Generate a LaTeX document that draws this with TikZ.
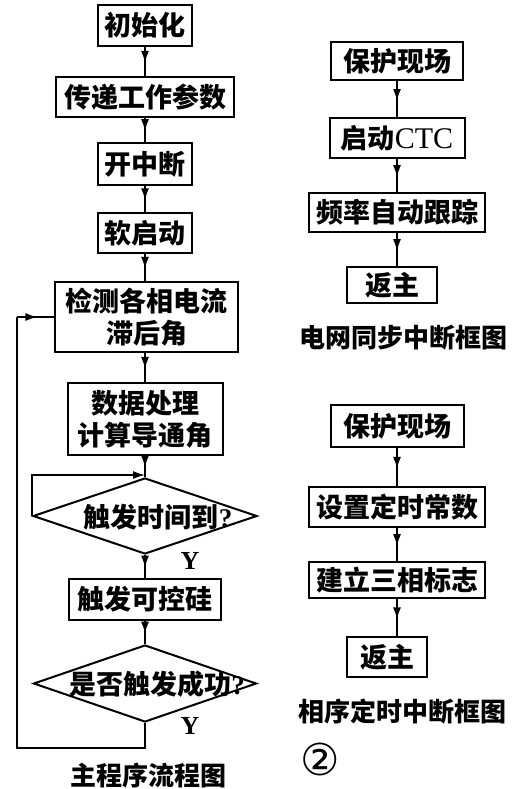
\documentclass[tikz,border=0pt]{standalone}
\usepackage{fontspec}
\setmainfont{Liberation Serif}
\newfontfamily\cjk{Noto Sans CJK SC}
\newfontfamily\symb{DejaVu Sans}
\usetikzlibrary{arrows.meta, shapes.geometric, decorations.markings}

\tikzset{
  box/.style={draw, line width=2pt, inner sep=0pt, align=center,
    font=\cjk\bfseries\fontsize{27}{32}\selectfont},
  decision/.style={draw, diamond, line width=2pt, inner sep=0pt},
  dtext/.style={inner sep=0pt, font=\bfseries\fontsize{27}{32}\selectfont},
  flow/.style={line width=1.6pt, postaction={decorate},
    decoration={markings, mark=at position 0.55 with {\arrow{Latex[length=12pt,width=8pt]}}}},
  loopline/.style={line width=1.6pt},
  ylabel/.style={font=\bfseries\fontsize{26}{30}\selectfont},
  caption/.style={font=\cjk\bfseries\fontsize{26}{30}\selectfont},
}

\begin{document}
\begin{tikzpicture}[x=1pt, y=-1pt]

  \useasboundingbox (0,0) rectangle (529,789);

  %% Main program
  \node[box, minimum width=94pt, minimum height=41pt] (init) at (145,25.5) {初始化};
  \node[box, minimum width=178pt, minimum height=40pt] (param) at (145,97) {传递工作参数};
  \node[box, minimum width=94pt, minimum height=42pt] (intr) at (145,164) {开中断};
  \node[box, minimum width=94pt, minimum height=40pt] (soft) at (145,233) {软启动};
  \node[box, minimum width=183pt, minimum height=70pt] (detect) at (146.5,317) {检测各相电流\\滞后角};
  \node[box, minimum width=155pt, minimum height=72pt] (calc) at (145,419) {数据处理\\计算导通角};
  \node[decision, minimum width=224pt, minimum height=76pt] (d1) at (145,516) {};
  \node[dtext] (d1text) at (158,517) {{\cjk 触发时间到}?};
  \node[ylabel] (y1) at (190,561) {Y};
  \node[box, minimum width=152pt, minimum height=41pt] (trig) at (145,599.5) {触发可控硅};
  \node[decision, minimum width=223pt, minimum height=77pt] (d2) at (145,683.5) {};
  \node[dtext] (d2text) at (157,684) {{\cjk 是否触发成功}?};
  \node[ylabel] (y2) at (190,726) {Y};
  \node[caption] (cap1) at (148,776) {主程序流程图};

  \draw[flow] (init.south) -- (param.north);
  \draw[flow] (param.south) -- (intr.north);
  \draw[flow] (intr.south) -- (soft.north);
  \draw[flow] (soft.south) -- (soft.south |- detect.north);
  \draw[flow] (detect.south -| calc) -- (calc.north);
  \draw[flow] (calc.south) -- (d1.north);
  \draw[flow] (d1.south) -- (trig.north);
  \draw[flow] (trig.south) -- (d2.north);

  %% Loops back
  \coordinate (j1) at (145,475);
  \draw[loopline, -{Latex[length=12pt,width=8pt]}] (d1.west) |- (j1);
  \coordinate (back) at (17,317);
  \draw[loopline] (d2.south) -- ++(0,25) -| (back);
  \draw[flow] (back) -- (detect.west);

  %% Grid sync interrupt
  \node[box, minimum width=132pt, minimum height=38pt] (sync1) at (397,61.5) {保护现场};
  \node[box, minimum width=135pt, minimum height=40pt] (sync2) at (397,138) {{\cjk 启动}\fontspec{Liberation Serif}\mdseries\fontsize{30}{32}\selectfont CTC};
  \node[box, minimum width=176pt, minimum height=39pt] (sync3) at (397,212.5) {频率自动跟踪};
  \node[box, minimum width=90pt, minimum height=36pt] (sync4) at (392,285) {返主};
  \node[caption] (cap2) at (403,338) {电网同步中断框图};

  \draw[flow] (sync1.south) -- (sync1.south |- sync2.north);
  \draw[flow] (sync2.south) -- (sync2.south |- sync3.north);
  \draw[flow] (sync3.south) -- (sync3.south |- sync4.north);

  %% Phase sequence timer interrupt
  \node[box, minimum width=133pt, minimum height=42pt] (seq1) at (397,426) {保护现场};
  \node[box, minimum width=176pt, minimum height=40pt] (seq2) at (397,507) {设置定时常数};
  \node[box, minimum width=176pt, minimum height=36pt] (seq3) at (397,580) {建立三相标志};
  \node[box, minimum width=80pt, minimum height=40pt] (seq4) at (387,657) {返主};
  \node[caption] (cap3) at (402,712) {相序定时中断框图};
  \node[font=\symb\fontsize{44}{46}\selectfont] (num) at (320,759) {②};

  \draw[flow] (seq1.south) -- (seq1.south |- seq2.north);
  \draw[flow] (seq2.south) -- (seq2.south |- seq3.north);
  \draw[flow] (seq3.south) -- (seq3.south |- seq4.north);

\end{tikzpicture}
\end{document}
